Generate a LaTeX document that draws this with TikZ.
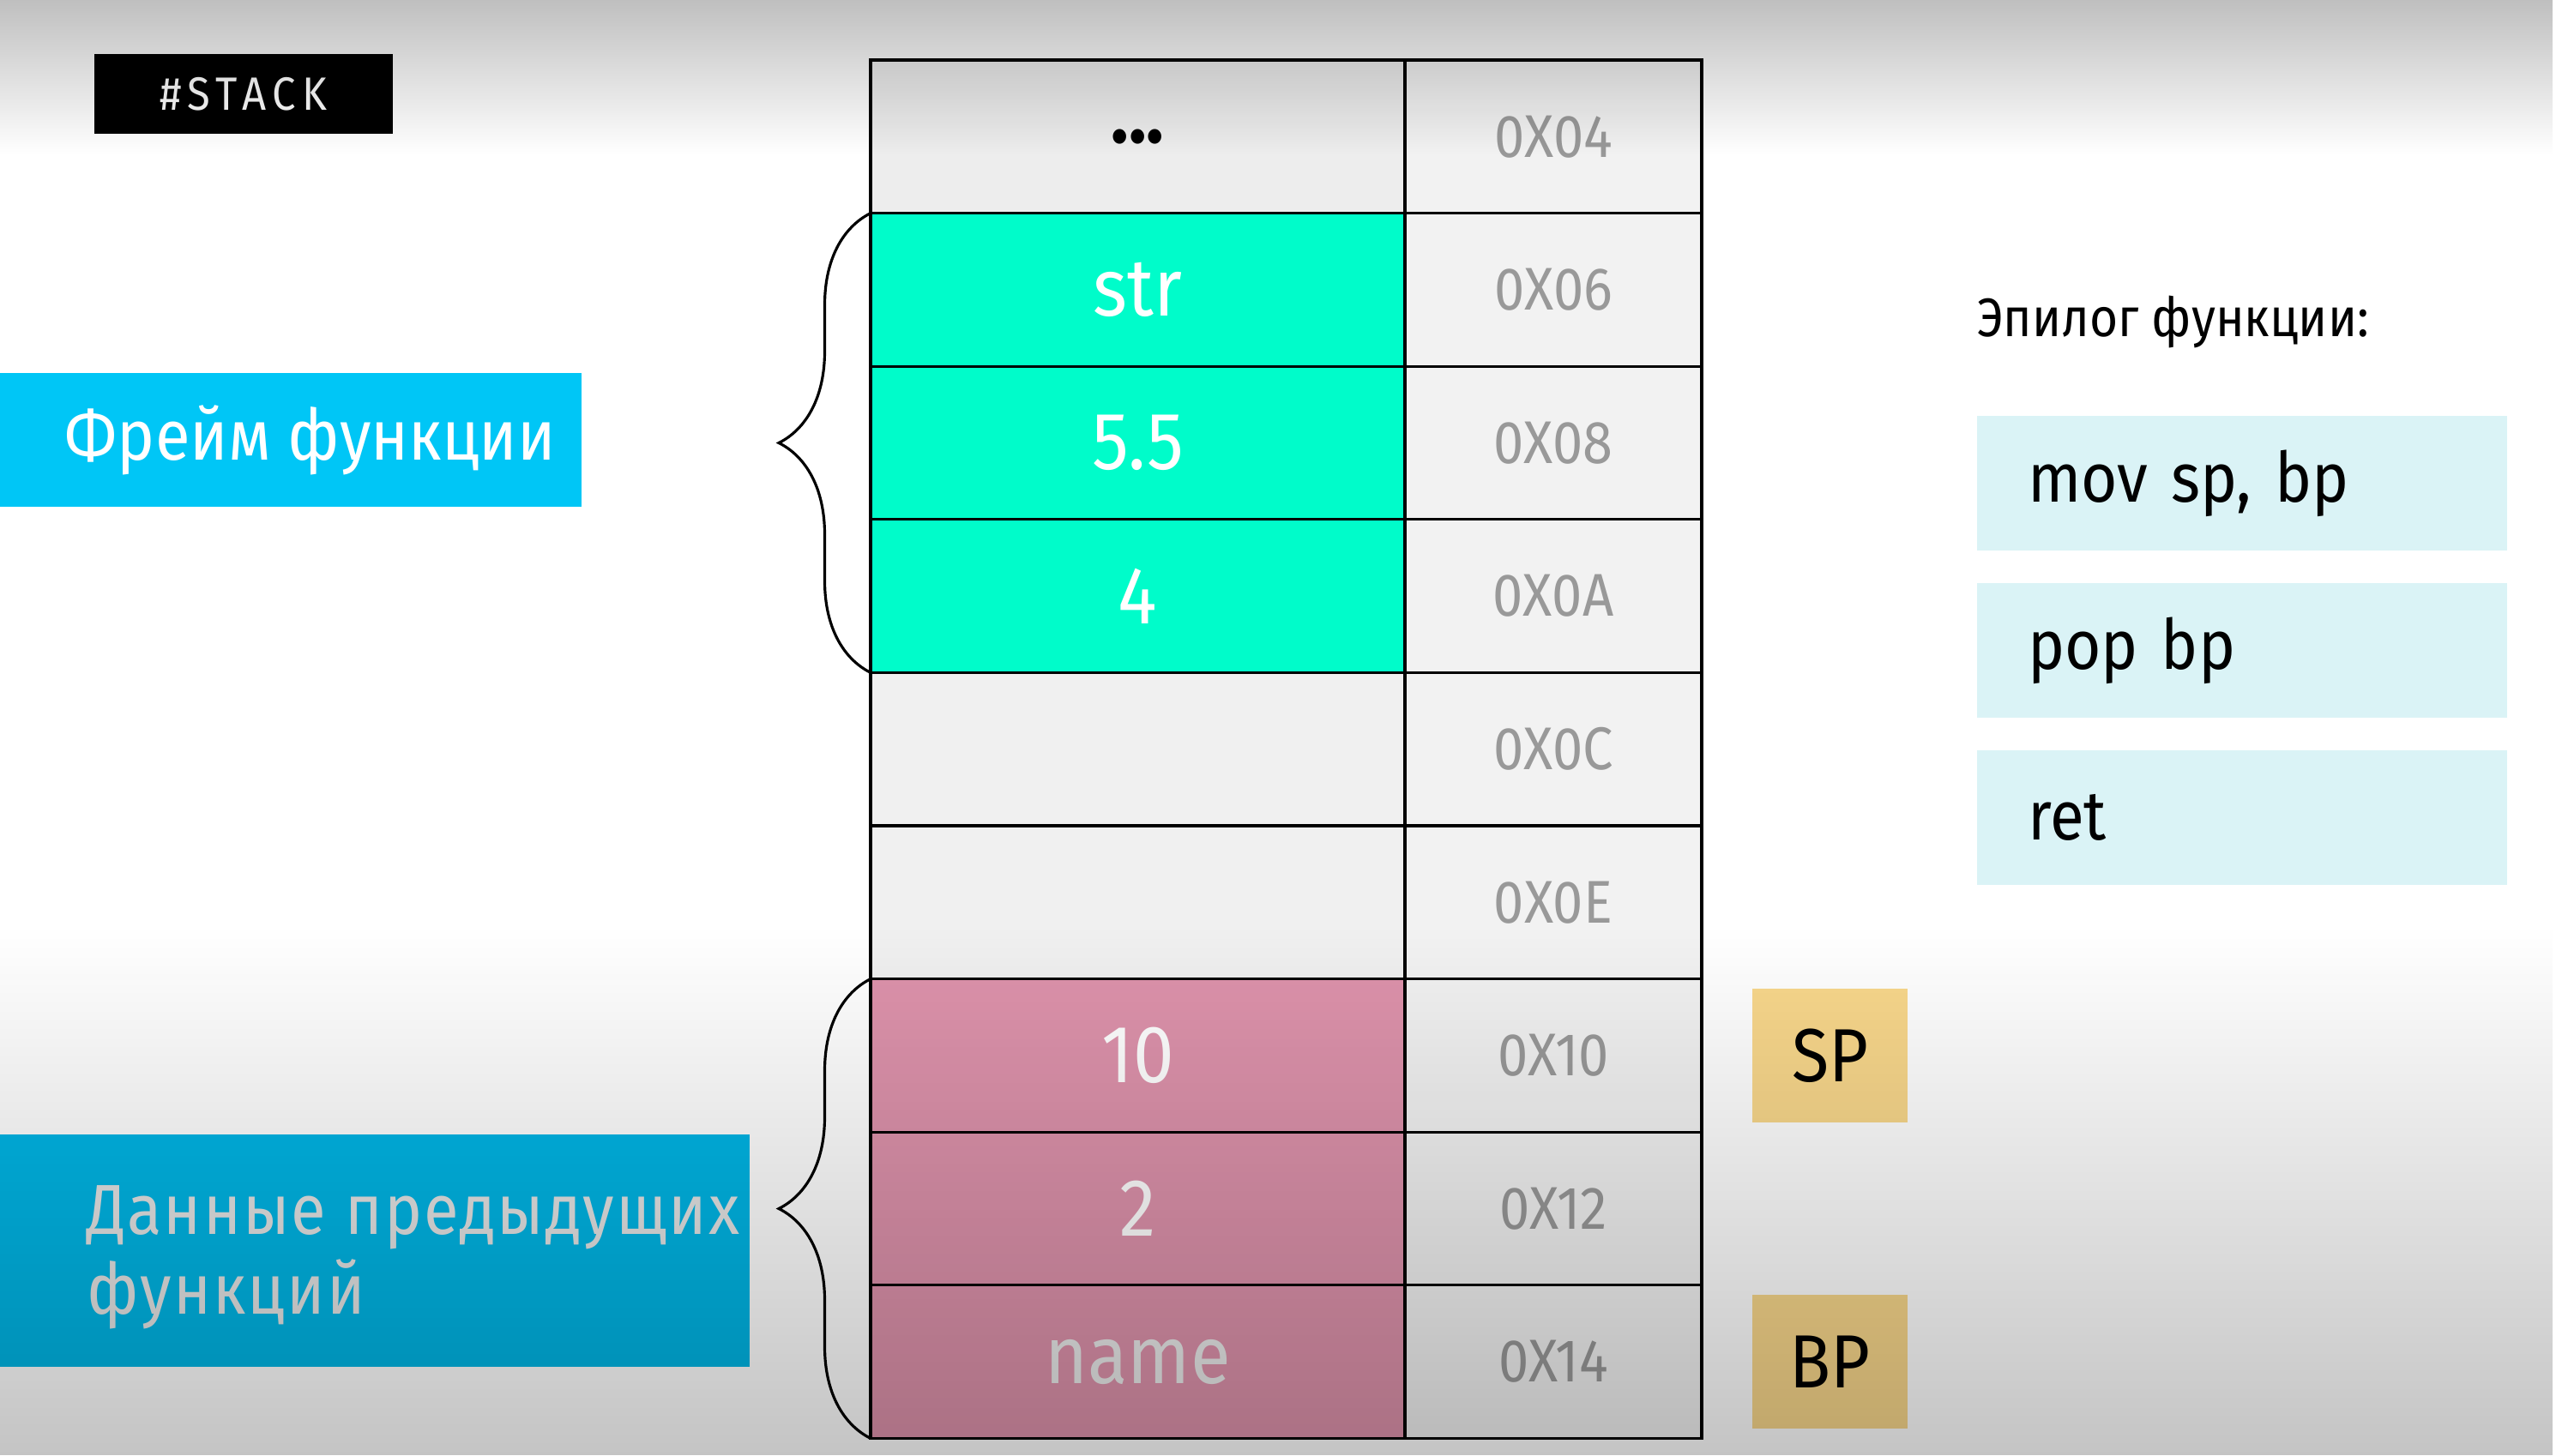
\documentclass[tikz,border=0pt]{standalone}
\usepackage{fontspec}
\setmainfont{Fira Sans}[FakeStretch=0.9]
\usetikzlibrary{positioning, decorations.pathreplacing, fadings}
\definecolor{framecyan}{HTML}{00C6F6}
\definecolor{datacyan}{HTML}{00B6E6}
\definecolor{frameteal}{HTML}{00FCCA}
\definecolor{oldpink}{HTML}{DE93AC}
\definecolor{regsand}{HTML}{F9D88C}
\definecolor{codeice}{HTML}{DAF3F6}
\tikzfading[name=fadetop, top color=transparent!0, bottom color=transparent!100]
\tikzfading[name=fadebottom, top color=transparent!100, bottom color=transparent!0]
\tikzset{
    %Define style for the stack cells
    valcell/.style={
           rectangle,
           draw=black, line width=0.9pt,
           minimum width=6.23cm,
           minimum height=1.786cm,
           inner sep=0pt, outer sep=0pt,
           font=\fontsize{27}{32}\selectfont},
    addrcell/.style={
           valcell,
           minimum width=3.46cm,
           fill=black!5,
           text=black!40,
           font=\fontsize{20}{24}\selectfont},
    % Define style for the labels
    tagbox/.style={
           rectangle,
           inner sep=0pt, outer sep=0pt},
    regbox/.style={
           tagbox,
           fill=regsand,
           minimum width=1.81cm,
           minimum height=1.56cm,
           font=\fontsize{25}{30}\selectfont},
    codebox/.style={
           tagbox,
           fill=codeice,
           minimum width=6.18cm,
           minimum height=1.57cm,
           text width=5cm,
           inner xsep=0.59cm,
           align=left,
           font=\fontsize{23}{28}\selectfont},
    % Define brace style
    klammer/.style={
           decorate,
           decoration={brace, amplitude=1.07cm},
           line width=0.9pt}
}
\begin{document}
\begin{tikzpicture}
	\useasboundingbox (0,0) rectangle (29.8,-16.97);
	\fill[white] (0,0) rectangle (29.8,-16.97);
	%
	% stack
	%
	\node[valcell, fill=black!7] (v04) at (13.265,-1.593) {\textbf{...}};
	\node[valcell, fill=frameteal, text=white, below=0pt of v04] (v06) {str};
	\node[valcell, fill=frameteal, text=white, below=0pt of v06] (v08) {5.5};
	\node[valcell, fill=frameteal, text=white, below=0pt of v08] (v0A) {4};
	\node[valcell, fill=black!6, below=0pt of v0A] (v0C) {};
	\node[valcell, fill=black!6, below=0pt of v0C] (v0E) {};
	\node[valcell, fill=oldpink, text=white, below=0pt of v0E] (v10) {10};
	\node[valcell, fill=oldpink, text=white, below=0pt of v10] (v12) {2};
	\node[valcell, fill=oldpink, text=white!92!black, below=0pt of v12] (v14) {name};
	%
	\node[addrcell, right=0pt of v04] (a04) {0X04};
	\node[addrcell, right=0pt of v06] (a06) {0X06};
	\node[addrcell, right=0pt of v08] (a08) {0X08};
	\node[addrcell, right=0pt of v0A] (a0A) {0X0A};
	\node[addrcell, right=0pt of v0C] (a0C) {0X0C};
	\node[addrcell, right=0pt of v0E] (a0E) {0X0E};
	\node[addrcell, right=0pt of v10] (a10) {0X10};
	\node[addrcell, right=0pt of v12] (a12) {0X12};
	\node[addrcell, right=0pt of v14] (a14) {0X14};
	%
	% labels
	%
	\node[tagbox, fill=black, text=white, minimum width=3.48cm, minimum height=0.93cm,
	      font=\fontsize{15.5}{18}\selectfont\addfontfeature{LetterSpace=14}] (stack) at (2.84,-1.095) {\#STACK};
	\node[tagbox, fill=framecyan, minimum width=6.78cm, minimum height=1.56cm] (frame) at (3.39,-5.13) {};
	\node[tagbox, text=white, font=\fontsize{23.5}{28}\selectfont, right=0.76cm of frame.west] (frametext) {Фрейм функции};
	\node[tagbox, fill=datacyan, minimum width=8.74cm, minimum height=2.71cm] (data) at (4.37,-14.585) {};
	\node[tagbox, text=white!90!black, align=left, font=\fontsize{23.5}{26.5}\selectfont\addfontfeature{LetterSpace=2.5},
	      right=1.01cm of data.west, yshift=-0.08cm] (datatext) {Данные предыдущих\\функций};
	\node[regbox, right=0.59cm of a10] (sp) {SP};
	\node[regbox, right=0.59cm of a14] (bp) {BP};
	%
	\node[tagbox, anchor=west, font=\fontsize{18}{22}\selectfont] (epilog) at (23.05,-3.76) {Эпилог функции:};
	\node[codebox] (mov) at (26.14,-5.635) {mov sp, bp};
	\node[codebox, below=0.38cm of mov] (pop) {pop bp};
	\node[codebox, below=0.38cm of pop] (ret) {ret};
	%
	% Liens
	%
	\draw[klammer] (v0A.south west) to (v06.north west);
	\draw[klammer] (v14.south west) to (v10.north west);
	%
	% shading
	%
	\fill[black, opacity=0.25, path fading=fadetop] (0,0) rectangle (29.8,-1.8);
	\fill[black, opacity=0.23, path fading=fadebottom] (0,-10.8) rectangle (29.8,-16.97);
\end{tikzpicture}
\end{document}
